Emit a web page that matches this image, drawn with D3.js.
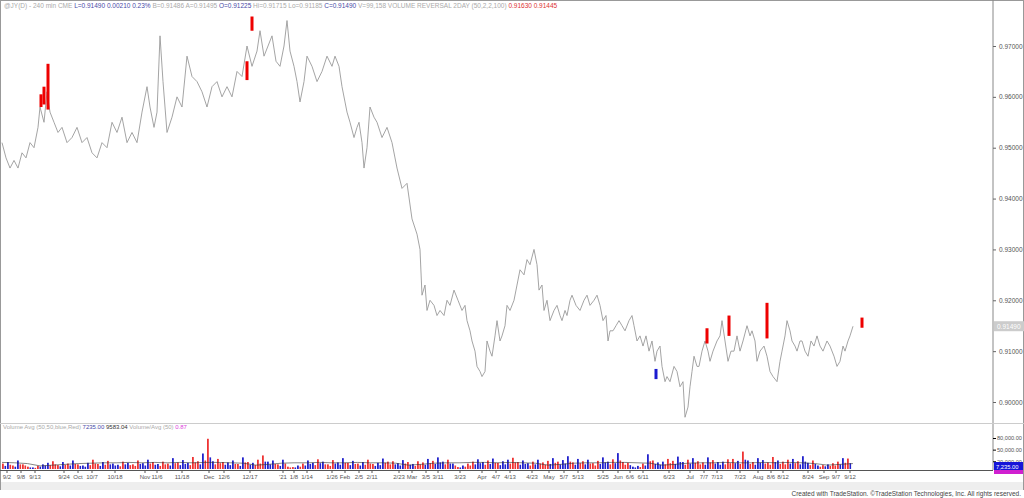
<!DOCTYPE html>
<html><head><meta charset="utf-8">
<script src="https://cdn.jsdelivr.net/npm/d3@7"></script>
<style>body{margin:0;background:#fff;font-family:"Liberation Sans",Arial,sans-serif}</style>
</head><body><div id="chart"></div>
<script>
// price path: [bar position, close]
const priceX = [0,4,8,12,16,20,24,28,32,36,38,42,45,48,52,56,60,65,70,75,80,85,90,95,100,105,110,115,120,125,130,135,140,145,148,152,155,158,161,165,170,175,180,185,190,195,200,205,210,215,220,225,230,235,240,245,250,255,258,262,266,270,274,278,282,285,288,292,295,298,302,305,310,315,320,325,330,333,337,340,343,345,348,352,355,357,360,362,365,368,372,375,380,385,390,395,400,405,410,415,418,420,423,425,428,432,435,438,442,445,448,452,456,460,463,465,468,470,473,475,478,480,483,485,488,490,493,495,498,500,503,505,508,512,515,518,522,525,528,532,535,537,540,542,545,548,552,555,558,560,563,565,568,570,574,578,582,585,588,592,595,598,601,604,606,608,611,614,617,620,623,627,630,632,635,638,641,644,647,650,653,655,658,660,663,665,668,672,675,678,681,683,686,688,690,692,695,697,700,703,706,708,711,715,718,720,723,726,729,732,735,738,741,745,748,750,753,755,758,762,765,768,771,775,778,780,783,785,788,790,793,795,798,800,803,806,809,812,815,818,821,825,828,832,835,838,841,843,846,848,851,853,856,858];
const priceY = [0.951,0.948,0.946,0.9475,0.946,0.949,0.948,0.951,0.950,0.954,0.958,0.955,0.961,0.957,0.955,0.953,0.954,0.951,0.952,0.954,0.951,0.952,0.949,0.948,0.951,0.950,0.955,0.953,0.956,0.951,0.953,0.951,0.957,0.962,0.958,0.954,0.957,0.972,0.963,0.953,0.956,0.960,0.958,0.968,0.964,0.963,0.961,0.958,0.962,0.963,0.960,0.962,0.960,0.965,0.964,0.970,0.966,0.969,0.973,0.968,0.970,0.972,0.967,0.966,0.970,0.975,0.969,0.966,0.963,0.959,0.963,0.968,0.966,0.963,0.965,0.968,0.966,0.968,0.966,0.962,0.959,0.957,0.955,0.952,0.954,0.955,0.951,0.946,0.950,0.958,0.956,0.955,0.952,0.954,0.951,0.946,0.942,0.943,0.936,0.933,0.930,0.921,0.923,0.918,0.920,0.919,0.917,0.918,0.917,0.920,0.919,0.922,0.920,0.918,0.919,0.916,0.914,0.912,0.910,0.907,0.906,0.905,0.906,0.912,0.910,0.909,0.913,0.916,0.912,0.913,0.915,0.919,0.918,0.920,0.923,0.926,0.925,0.928,0.927,0.930,0.927,0.922,0.923,0.918,0.920,0.916,0.918,0.919,0.917,0.916,0.918,0.917,0.920,0.921,0.919,0.918,0.920,0.921,0.919,0.920,0.921,0.919,0.916,0.917,0.912,0.914,0.914,0.915,0.916,0.915,0.914,0.916,0.917,0.915,0.912,0.913,0.911,0.913,0.910,0.912,0.908,0.910,0.911,0.907,0.904,0.905,0.904,0.907,0.906,0.903,0.904,0.897,0.899,0.903,0.906,0.909,0.907,0.907,0.910,0.912,0.910,0.908,0.910,0.912,0.913,0.916,0.912,0.908,0.910,0.910,0.913,0.910,0.912,0.915,0.913,0.914,0.912,0.908,0.910,0.911,0.909,0.906,0.905,0.904,0.908,0.910,0.913,0.916,0.914,0.912,0.911,0.910,0.912,0.912,0.910,0.909,0.912,0.911,0.913,0.911,0.910,0.912,0.911,0.909,0.907,0.908,0.911,0.910,0.912,0.913,0.9149];
// volume reversal markers: [bar, high, low, colour]
const markX = [39,42,46,245,250,654,705,727,765,860];
const markHi = [0.9605,0.962,0.9665,0.967,0.9758,0.9065,0.9145,0.917,0.9195,0.9166];
const markLo = [0.9580,0.9585,0.9575,0.9633,0.9730,0.9045,0.9115,0.913,0.9125,0.9146];
const markCol = ["r","r","r","r","r","b","r","r","r","r"];
// volume (thousands), one bar per 5 bar-units, with colour code
const volK = [14,18,9,22,12,6,4,8,12,16,20,10,18,14,22,12,9,16,24,13,18,21,14,11,19,16,12,22,15,24,18,13,19,14,28,17,23,16,31,20,40,78,20,26,18,17,22,13,30,18,16,24,35,19,22,12,24,6,5,9,14,22,16,25,19,12,23,17,28,16,21,14,18,24,13,16,27,19,20,15,23,18,13,20,17,26,21,30,19,24,14,5,9,14,19,25,18,22,27,16,20,24,29,18,22,15,19,24,17,21,28,19,23,33,17,26,20,24,15,21,30,19,25,41,18,16,6,8,14,38,22,17,19,26,21,32,18,24,28,20,17,30,23,18,19,25,26,21,45,22,18,28,23,17,31,22,19,24,26,20,33,16,22,9,10,12,15,19,28,27];
const volC = "rbrbrrbrbbrrbrbrbbrrbrbbrbrrbbrbrrbrbbrrbrbrrbbrbrbrrbbrbrrbrbbrbrrbbrbrbrrbbrrbbrbrrbrbbrbrbrrbbrbrbbrrbbrbrrbrbbrbrbrrbbrbrrbbrbrbbrrbbrbrrbrbbrrbrbrbbrrbrrbrbb";
// smaller in-between bars (thousands)
const volK2 = [8,11,6,12,9,4,3,6,9,10,12,7,11,9,13,8,6,10,14,8,11,12,9,7,12,10,8,13,9,14,11,8,12,9,15,10,13,10,17,12,22,30,12,15,11,10,13,8,17,11,10,14,19,12,13,8,14,4,4,6,9,13,10,15,12,8,14,11,16,10,13,9,11,14,8,10,16,12,12,9,14,11,8,12,11,15,13,17,12,14,9,4,6,9,12,15,11,13,16,10,12,14,17,11,13,9,12,14,11,13,16,12,14,19,11,15,12,14,9,13,17,12,15,22,11,10,4,5,9,20,13,11,12,15,13,18,11,14,16,12,11,17,14,11,12,15,15,13,24,13,11,16,14,11,18,13,12,14,15,12,19,10,13,6,7,8,9,12,16,15];
const volAvgK = [17,16,14,8,10,12,14,15,16,16,17,16,17,16,17,16,17,17,16,15,10,12,15,16,16,17,16,16,17,16,16,15,10,12,15,16,16,17,17,16,17,16,15,10,12,15,16,16,17,17,16,15,10,12,15,16,16,17,16,16,17,16,17,16,14,10,12,14];
const tickPos = [5,19,33,62,76,90,113,143,155,180,207,222,248,281,292,305,330,343,357,370,397,410,424,436,458,480,494,508,530,547,562,576,601,616,628,641,667,688,702,715,738,756,769,781,806,822,834,848];
const tickLab = ["9/2","9/8","9/13","9/24","Oct","10/7","10/18","Nov","11/6","11/18","Dec","12/6","12/17","'21","1/8","1/14","1/26","Feb","2/5","2/11","2/23","Mar","3/5","3/11","3/23","Apr","4/7","4/13","4/23","May","5/7","5/13","5/25","Jun","6/6","6/11","6/23","Jul","7/7","7/13","7/23","Aug","8/6","8/12","8/24","Sep","9/7","9/12"];
const priceTicks = [0.90,0.91,0.92,0.93,0.94,0.95,0.96,0.97];
const volTicks = [20000,50000,80000];

const W = 1024, H = 498;
const svg = d3.select("#chart").append("svg").attr("width", W).attr("height", H)
  .style("font-family", "Liberation Sans, Arial, sans-serif");

const x = d3.scaleLinear().domain([0, 862]).range([2, 864]);
const y = d3.scaleLinear().domain([0.90, 0.97]).range([402, 46]);
const yv = d3.scaleLinear().domain([0, 80000]).range([469, 438]);
const axisX = 993;

// frame
svg.append("rect").attr("x", 0.5).attr("y", 0.5).attr("width", W - 1).attr("height", 489).attr("fill", "none").attr("stroke", "#999");
svg.append("line").attr("x1", axisX).attr("x2", axisX).attr("y1", 0).attr("y2", 470).attr("stroke", "#888");
svg.append("line").attr("x1", 0).attr("x2", W).attr("y1", 423.5).attr("y2", 423.5).attr("stroke", "#ccc");
svg.append("rect").attr("x", 1).attr("y", 482).attr("width", W - 2).attr("height", 8).attr("fill", "#eee");

// header
svg.append("text").attr("x", 4).attr("y", 8).attr("font-size", 6.5).attr("fill", "#aaa")
  .selectAll("tspan").data([
    ["@JY(D) - 240 min  CME  ", "#aaa"], ["L=0.91490  0.00210  0.23%  ", "#4a4aa8"], ["B=0.91486  A=0.91495  ", "#aaa"],
    ["O=0.91225  ", "#4a4aa8"], ["Hi=0.91715  Lo=0.91185  ", "#aaa"], ["C=0.91490  ", "#4a4aa8"],
    ["V=99,158  VOLUME REVERSAL 2DAY (50,2,2,100)  ", "#aaa"], ["0.91630  0.91445", "#d33"]])
  .enter().append("tspan").attr("fill", d => d[1]).text(d => d[0]);

// price axis
const pa = svg.append("g").attr("transform", `translate(${axisX},0)`)
  .call(d3.axisRight(y).tickValues(priceTicks).tickSize(3).tickFormat(d3.format(".5f")));
pa.select(".domain").remove();
pa.selectAll("text").attr("font-size", 6.5).attr("fill", "#555").attr("font-family", "Liberation Sans, Arial");
pa.selectAll("line").attr("stroke", "#666");

// price line
svg.append("path").datum(priceX.map((d, i) => [d, priceY[i]]))
  .attr("d", d3.line().x(d => x(d[0])).y(d => y(d[1])))
  .attr("fill", "none").attr("stroke", "#9a9a9a").attr("stroke-width", 0.9);

// reversal markers
svg.selectAll(".mk").data(markX).enter().append("rect")
  .attr("x", d => x(d) - 1.5).attr("width", 3)
  .attr("y", (d, i) => y(markHi[i])).attr("height", (d, i) => y(markLo[i]) - y(markHi[i]))
  .attr("fill", (d, i) => markCol[i] === "r" ? "#e00" : "#1a1ad0");

// last price label
svg.append("rect").attr("x", axisX + 1).attr("y", y(0.9149) - 5).attr("width", 30).attr("height", 10).attr("fill", "#ccc");
svg.append("text").attr("x", axisX + 4).attr("y", y(0.9149) + 2.5).attr("font-size", 6.5).attr("fill", "#fff").text("0.91490");

// volume panel
svg.append("text").attr("x", 3).attr("y", 429).attr("font-size", 6).attr("fill", "#aaa")
  .selectAll("tspan").data([["Volume Avg (50,50,blue,Red)  ", "#aaa"], ["7235.00  ", "#4a4aa8"], ["9583.04  ", "#333"], ["Volume/Avg (50)  ", "#aaa"], ["0.87", "#d4d"]])
  .enter().append("tspan").attr("fill", d => d[1]).text(d => d[0]);

const colOf = c => c === "r" ? "#e33" : "#2222cc";
svg.selectAll(".vb2").data(volK2).enter().append("rect")
  .attr("x", (d, i) => x(i * 5 + 2.5)).attr("width", 1.6)
  .attr("y", d => yv(d * 1000)).attr("height", d => yv(0) - yv(d * 1000))
  .attr("fill", (d, i) => colOf(volC[(i + 1) % volC.length]));
svg.selectAll(".vb").data(volK).enter().append("rect")
  .attr("x", (d, i) => x(i * 5)).attr("width", 1.8)
  .attr("y", d => yv(d * 1000)).attr("height", d => yv(0) - yv(d * 1000))
  .attr("fill", (d, i) => colOf(volC[i % volC.length]));
svg.append("path").datum(volAvgK)
  .attr("d", d3.line().x((d, i) => x(i * 12.7)).y(d => yv(d * 1000)))
  .attr("fill", "none").attr("stroke", "#333").attr("stroke-width", 0.6);

const va = svg.append("g").attr("transform", `translate(${axisX},0)`)
  .call(d3.axisRight(yv).tickValues(volTicks).tickSize(3).tickFormat(d3.format(",.2f")));
va.select(".domain").remove();
va.selectAll("text").attr("font-size", 5.6).attr("fill", "#555").attr("dx", -2);
svg.append("rect").attr("x", axisX + 1).attr("y", 462).attr("width", 29).attr("height", 8).attr("fill", "#1515d8");
svg.append("rect").attr("x", axisX + 1).attr("y", 470).attr("width", 29).attr("height", 4).attr("fill", "#d020d0");
svg.append("text").attr("x", axisX + 3).attr("y", 468.5).attr("font-size", 5.8).attr("fill", "#fff").text("7,235.00");

// time axis
svg.append("line").attr("x1", 0).attr("x2", axisX).attr("y1", 470.5).attr("y2", 470.5).attr("stroke", "#555");
svg.selectAll(".tk").data(tickPos).enter().append("line")
  .attr("x1", d => x(d)).attr("x2", d => x(d)).attr("y1", 470).attr("y2", 473).attr("stroke", "#555");
svg.selectAll(".tl").data(tickPos).enter().append("text")
  .attr("x", d => x(d)).attr("y", 479).attr("text-anchor", "middle").attr("font-size", 6).attr("fill", "#555")
  .text((d, i) => tickLab[i]);

// footer
svg.append("text").attr("x", W - 3).attr("y", 496).attr("text-anchor", "end").attr("font-size", 6.5).attr("fill", "#444")
  .text("Created with TradeStation. ©TradeStation Technologies, Inc. All rights reserved.");
</script></body></html>
